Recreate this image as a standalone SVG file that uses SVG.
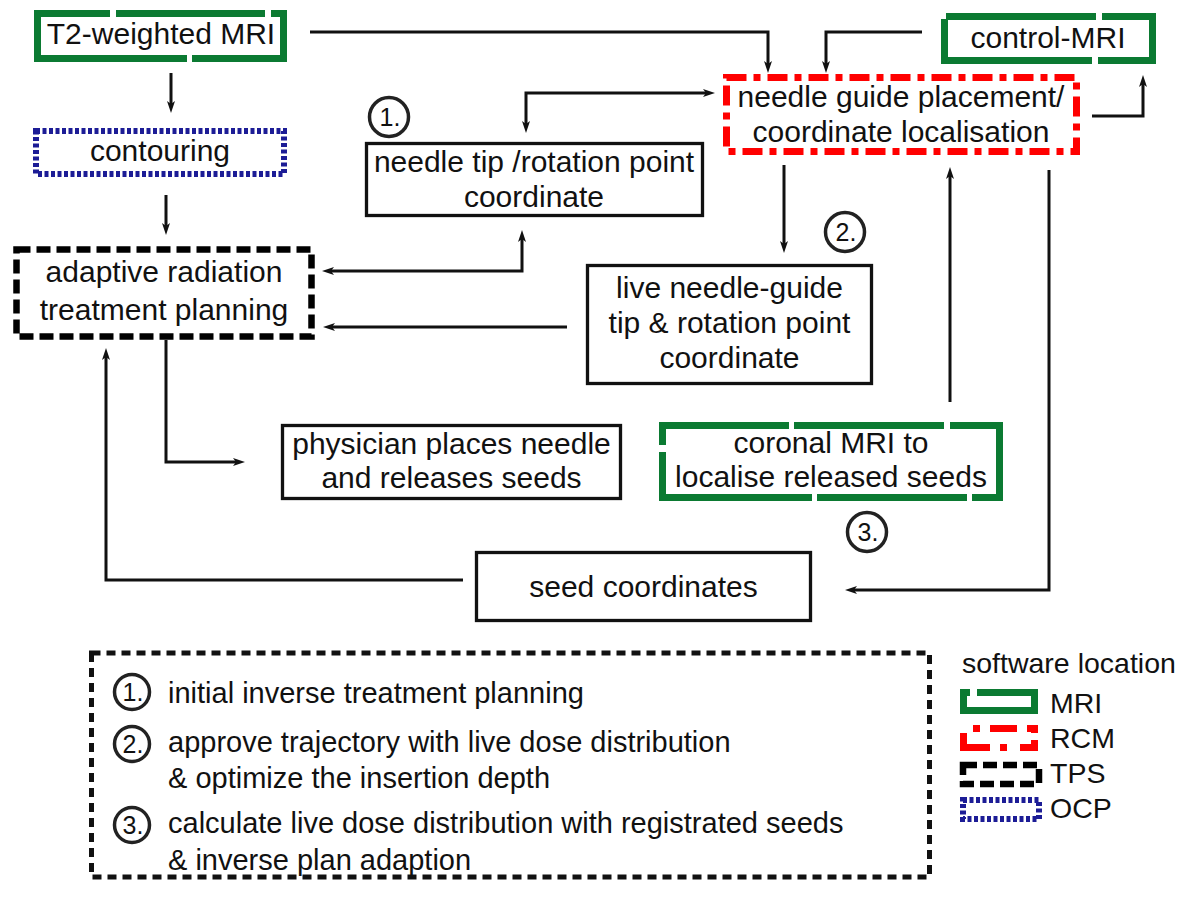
<svg xmlns="http://www.w3.org/2000/svg" width="1184" height="897" viewBox="0 0 1184 897">
<style>
text{font-family:"Liberation Sans",Arial,Helvetica,sans-serif;fill:#111}
.t{font-size:30px;text-anchor:middle}
.lg{font-size:29px}
.ls{font-size:28.5px}
.n{font-size:25px;text-anchor:middle}
.solid{fill:#fff;stroke:#111;stroke-width:3.3}
.mri{fill:none;stroke:#0b7a32;stroke-width:7;stroke-linejoin:miter}
.rcm{fill:none;stroke:#ff0000;stroke-width:7;stroke-dasharray:20 7 7 7}
.rcmi{fill:none;stroke:#ff0000;stroke-width:7}
.tps{fill:none;stroke:#000;stroke-width:6.5;stroke-dasharray:14 6}
.ocp{fill:none;stroke:#1c1c96;stroke-width:6;stroke-dasharray:4 2.5}
.leg{fill:none;stroke:#111;stroke-width:5;stroke-dasharray:9 6}
.c{fill:none;stroke:#111;stroke-width:3;marker-end:url(#ah)}
.cb{marker-start:url(#ah)}
.circ{fill:#fff;stroke:#222;stroke-width:3.5}
</style>
<defs>
<marker id="ah" markerUnits="userSpaceOnUse" markerWidth="14" markerHeight="10" refX="5" refY="4.5" orient="auto-start-reverse">
<path d="M0,0.5 L12,4.5 L0,8.5 L3,4.5 z" fill="#111"/>
</marker>
</defs>
<rect width="1184" height="897" fill="#fff"/>

<g id="connectors">
<path class="c" d="M171,73 V106"/>
<path class="c" d="M166,195 V228"/>
<path class="c" d="M310,32 H768 V66"/>
<path class="c" d="M922,32 H826 V66"/>
<path class="c" d="M1092,116 H1143 V82"/>
<path class="c cb" d="M708,93 H526 V126"/>
<path class="c cb" d="M522,237 V271 H329"/>
<path class="c" d="M567,327 H330"/>
<path class="c" d="M784,165 V246"/>
<path class="c" d="M950,402 V174"/>
<path class="c" d="M1049,170 V590 H852"/>
<path class="c" d="M166,340 V462 H238"/>
<path class="c" d="M463,580 H106 V355"/>
</g>

<g id="t2mri">
<path class="mri" d="M110,13.5 H37.5 V58.5 H187 M192,58.5 H283.5 V13.5 H271 M265,13.5 H116"/>
<text class="t" x="161" y="44">T2-weighted MRI</text>
</g>

<g id="contouring">
<rect class="ocp" x="36" y="131" width="248" height="43"/>
<text class="t" x="160" y="161">contouring</text>
</g>

<g id="adaptive">
<rect class="tps" x="16.5" y="249.5" width="295" height="87"/>
<text class="t" x="164" y="282">adaptive radiation</text>
<text class="t" x="164" y="320">treatment planning</text>
</g>

<g id="needletip">
<rect class="solid" x="366.5" y="143.5" width="336" height="72"/>
<text class="t" x="534" y="172">needle tip /rotation point</text>
<text class="t" x="534" y="207">coordinate</text>
</g>

<g id="step1">
<circle class="circ" cx="389" cy="117" r="19.5"/>
<text class="n" x="390" y="126">1.</text>
</g>

<g id="rcmbox">
<rect class="rcm" x="726.5" y="77.5" width="350" height="74"/>
<text class="t" x="901" y="107">needle guide placement/</text>
<text class="t" x="901" y="142">coordinate localisation</text>
</g>

<g id="controlmri">
<path class="mri" d="M1096,16.5 H946 M944.5,19 V60.5 H1092 M1098,60.5 H1152.5 V16.5 H1102"/>
<text class="t" x="1048" y="48">control-MRI</text>
</g>

<g id="livecoord">
<rect class="solid" x="587.5" y="265.5" width="284" height="118"/>
<text class="t" x="729.5" y="298">live needle-guide</text>
<text class="t" x="729.5" y="333">tip &amp; rotation point</text>
<text class="t" x="729.5" y="368">coordinate</text>
</g>

<g id="step2">
<circle class="circ" cx="845" cy="232" r="19.5"/>
<text class="n" x="846" y="241">2.</text>
</g>

<g id="physician">
<rect class="solid" x="282.5" y="425.5" width="338" height="73"/>
<text class="t" x="451.5" y="454">physician places needle</text>
<text class="t" x="451.5" y="488">and releases seeds</text>
</g>

<g id="coronal">
<path class="mri" d="M789,425.5 H662.5 V445 M662.5,452 V497.5 H812 M817,497.5 H967 M972,497.5 H999.5 V425.5 H950 M944,425.5 H794"/>
<text class="t" x="831" y="453">coronal MRI to</text>
<text class="t" x="831" y="487">localise released seeds</text>
</g>

<g id="step3">
<circle class="circ" cx="867" cy="532" r="19.5"/>
<text class="n" x="868" y="541">3.</text>
</g>

<g id="seedcoord">
<rect class="solid" x="476.5" y="552.5" width="334" height="68"/>
<text class="t" x="643.5" y="597">seed coordinates</text>
</g>

<g id="legend-steps">
<rect class="leg" x="91.5" y="653" width="838" height="224"/>
<circle class="circ" cx="132" cy="692" r="17.5"/>
<text class="n" x="133" y="701">1.</text>
<text class="lg" x="168" y="703">initial inverse treatment planning</text>
<circle class="circ" cx="132" cy="744" r="17.5"/>
<text class="n" x="133" y="753">2.</text>
<text class="lg" x="168" y="752">approve trajectory with live dose distribution</text>
<text class="lg" x="168" y="788">&amp; optimize the insertion depth</text>
<circle class="circ" cx="132" cy="825" r="17.5"/>
<text class="n" x="133" y="834">3.</text>
<text class="lg" x="168" y="833">calculate live dose distribution with registrated seeds</text>
<text class="lg" x="168" y="870">&amp; inverse plan adaption</text>
</g>

<g id="legend-software">
<text class="ls" x="962" y="673">software location</text>
<path class="mri" d="M970,692.5 H963.5 V710.5 H1034.5 V692.5 H977"/>
<text class="ls" x="1050" y="713">MRI</text>
<path class="rcmi" d="M973,728.5 H980 M990,728.5 H1017 M1027,728.5 H1034.5 V733 M1034.5,740 V747.5 H1020 M1007,747.5 H1000 M990,747.5 H963.5 V733"/>
<text class="ls" x="1050" y="748">RCM</text>
<rect class="tps" x="963" y="765" width="76" height="19"/>
<text class="ls" x="1050" y="783">TPS</text>
<rect class="ocp" x="963" y="800" width="76" height="19"/>
<text class="ls" x="1050" y="818">OCP</text>
</g>
</svg>
